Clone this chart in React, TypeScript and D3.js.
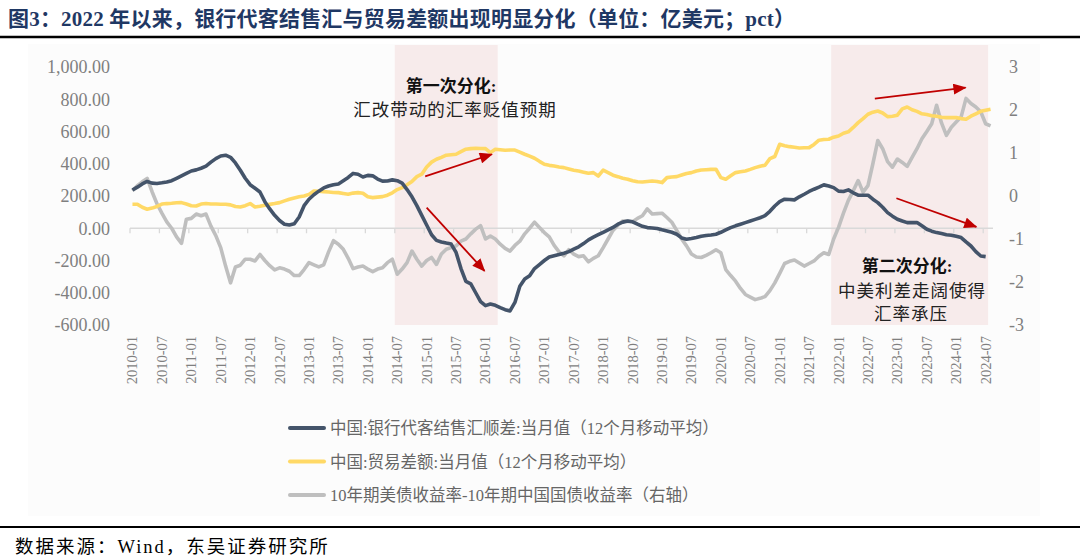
import React from "react";
import * as d3 from "d3";

// ---------- categories ----------
const startYear = 2010;
const monthCount = 176; // 2010-01 .. 2024-08
const months: string[] = Array.from(
  { length: monthCount },
  (_, i) => `${startYear + Math.floor(i / 12)}-${String((i % 12) + 1).padStart(2, "0")}`
);
const tickLabels: string[] = months.filter((_, i) => i % 6 === 0);
const leftTicks = [-600, -400, -200, 0, 200, 400, 600, 800, 1000];
const rightTicks = [-3, -2, -1, 0, 1, 2, 3];

// ---------- series (亿美元 / pct) ----------
const fxSettlement: number[] = [
  237, 255, 275, 290, 280, 278, 282, 287, 295, 310, 325, 340,
  355, 362, 372, 385, 410, 432, 448, 453, 440, 405, 360, 310,
  270, 248, 225, 165, 120, 80, 48, 25, 20, 28, 70, 140,
  180, 208, 230, 250, 262, 270, 275, 295, 315, 340, 335, 318,
  328, 325, 305, 292, 293, 300, 295, 280, 240, 195, 140, 80,
  20, -40, -75, -85, -92, -98, -150, -250, -330, -345, -400, -455,
  -480, -470, -478, -492, -505, -513, -460, -360, -315, -295, -250, -225,
  -200, -178, -170, -163, -155, -145, -130, -115, -95, -72, -55, -40,
  -25, -10, 5, 25, 38, 45, 40, 25, 12, 4, 2, -2,
  -10, -17, -25, -37, -60, -68, -64, -58, -50, -45, -42, -37,
  -25, -10, 4, 15, 25, 35, 45, 55, 65, 78, 105, 138,
  165, 180, 178, 176, 195, 211, 228, 242, 255, 269, 262, 252,
  230, 228, 238, 220, 205, 205, 205, 180, 159, 130, 97, 75,
  56, 45, 35, 35, 35, 15, -6, -18, -27, -33, -40, -43,
  -50, -58, -85, -110, -145, -172, -176,
];
const tradeBalance: number[] = [
  149, 149, 130, 118, 125, 135, 150, 153, 155, 158, 159, 150,
  140, 138, 150, 153, 150, 150, 149, 149, 145, 135, 132, 140,
  153, 132, 137, 143, 148, 153, 159, 170, 180, 188, 195, 200,
  210, 231, 229, 227, 225, 222, 221, 216, 211, 218, 221, 217,
  195, 190, 193, 196, 205, 220, 240, 252, 270, 290, 320, 335,
  380, 410, 428, 440, 453, 456, 459, 475, 490, 494, 496, 495,
  494, 469, 490, 487, 484, 485, 485, 472, 459, 447, 434, 415,
  397, 390, 386, 380, 376, 368, 360, 355, 348, 341, 345, 324,
  360, 345, 329, 320, 310, 304, 295, 288, 287, 290, 293, 290,
  283, 314, 318, 320, 330, 340, 345, 355, 361, 363, 365, 366,
  314, 304, 325, 345, 350, 355, 365, 376, 385, 391, 432, 445,
  521, 512, 506, 502, 498, 499, 500, 520, 546, 550, 552, 565,
  572, 589, 598, 625, 655, 680, 707, 720, 727, 715, 692, 695,
  701, 740, 752, 735, 725, 710, 705, 698, 695, 688, 686, 686,
  686, 680, 676, 695, 710, 725, 732, 738,
];
const yieldSpread: number[] = [
  0.12, 0.24, 0.33, 0.41, 0.1, -0.18, -0.4, -0.6, -0.75, -0.95, -1.1, -0.54,
  -0.52, -0.42, -0.46, -0.42, -0.7, -0.92, -1.2, -1.63, -2.02, -1.65, -1.61, -1.47,
  -1.47, -1.51, -1.36, -1.5, -1.62, -1.72, -1.67, -1.7, -1.75, -1.85, -1.85, -1.71,
  -1.55, -1.6, -1.65, -1.6, -1.3, -1.04, -1.12, -1.24, -1.45, -1.69, -1.65, -1.63,
  -1.7, -1.76, -1.7, -1.67, -1.55, -1.47, -1.82, -1.7, -1.55, -1.28, -1.47, -1.63,
  -1.5, -1.43, -1.59, -1.35, -1.24, -1.2, -1.16, -1.05, -1.0, -0.88, -0.77, -0.69,
  -1.0, -0.93, -1.0, -1.12, -1.22, -1.28, -1.15, -1.05, -0.88, -0.75, -0.61, -0.73,
  -0.85, -0.95, -1.15, -1.3, -1.39, -1.25, -1.35, -1.41, -1.39, -1.53, -1.45, -1.39,
  -1.2, -1.0, -0.8, -0.68, -0.58, -0.59, -0.6, -0.52, -0.46, -0.3, -0.42, -0.41,
  -0.4, -0.5, -0.61, -0.8, -1.0, -1.16, -1.35, -1.42, -1.43, -1.38, -1.32, -1.25,
  -1.32, -1.71, -1.85, -1.98, -2.15, -2.29, -2.35, -2.41, -2.38, -2.34, -2.2, -2.02,
  -1.8, -1.57, -1.52, -1.49, -1.56, -1.63, -1.57, -1.51, -1.4, -1.32, -1.36, -1.0,
  -0.73, -0.4, -0.1, 0.12, 0.36, 0.09, 0.24, 0.75, 1.29, 1.1, 0.8, 0.67,
  0.86, 0.78, 0.69, 0.9, 1.1, 1.33, 1.5, 1.68, 2.11, 1.7, 1.41, 1.6,
  1.72, 1.84, 2.27, 2.15, 2.07, 1.96, 1.68, 1.63,
];

const seriesNames = [
  "中国:银行代客结售汇顺差:当月值（12个月移动平均）",
  "中国:贸易差额:当月值（12个月移动平均）",
  "10年期美债收益率-10年期中国国债收益率（右轴）",
];
const seriesColors = ["#44546A", "#FFD966", "#BFBFBF"];

const shadePeriods: [string, string][] = [
  ["2014-07", "2016-03"],
  ["2021-12", "2024-07"],
];

// annotation arrows in data units: [month index, left-axis value]
const arrowDefs = [
  { x1: 59.7, y1: 322, x2: 73.3, y2: 459 },
  { x1: 60.0, y1: 128, x2: 71.8, y2: -265 },
  { x1: 151.4, y1: 804, x2: 169.9, y2: 872 },
  { x1: 155.8, y1: 186, x2: 172.1, y2: 8 },
];

const titleText = "图3：2022 年以来，银行代客结售汇与贸易差额出现明显分化（单位：亿美元；pct）";
const sourceText = "数据来源：Wind，东吴证券研究所";

const SERIF = "'Liberation Serif', 'Times New Roman', 'Noto Sans CJK SC', serif";

export default function App() {
  const W = 1080;
  const H = 558;
  const plot = { left: 130, right: 993, top: 67, bottom: 325 };

  const xBand = d3.scaleBand<string>().domain(months).range([plot.left, plot.right]).padding(0);
  const bw = xBand.bandwidth();
  const xc = (i: number) => plot.left + (i + 0.5) * bw;
  const yL = d3.scaleLinear().domain([-600, 1000]).range([plot.bottom, plot.top]);
  const yR = d3.scaleLinear().domain([-3, 3]).range([plot.bottom, plot.top]);

  const lineL = d3
    .line<number>()
    .x((_, i) => (xBand(months[i]) as number) + bw / 2)
    .y((d) => yL(d))
    .curve(d3.curveLinear);
  const lineR = d3
    .line<number>()
    .x((_, i) => (xBand(months[i]) as number) + bw / 2)
    .y((d) => yR(d));

  const axisY = yL(0);
  const shadeTop = 45;

  return (
    <svg
      width={W}
      height={H}
      style={{ position: "absolute", left: 0, top: 0, background: "#fff" }}
      xmlns="http://www.w3.org/2000/svg"
    >
      <defs>
        <marker
          id="arr"
          viewBox="0 0 12 10"
          refX="11"
          refY="5"
          markerWidth="14"
          markerHeight="11"
          markerUnits="userSpaceOnUse"
          orient="auto"
        >
          <path d="M0,0 L12,5 L0,10 z" fill="#C00000" />
        </marker>
      </defs>
      <rect x={0} y={0} width={W} height={H} fill="#fff" />
      <rect x={28} y={44} width={1012} height={472} fill="#FCFCFC" />

      {/* title */}
      <text x={8} y={26} fontFamily={SERIF} fontWeight="bold" fontSize={21} fill="#1F3864" letterSpacing={0.2}>
        {titleText}
      </text>
      <line x1={0} y1={37} x2={W} y2={37} stroke="#000" strokeWidth={2.5} />

      {/* shaded periods */}
      {shadePeriods.map(([a, b], k) => {
        const x0 = xBand(a) as number;
        const x1 = (xBand(b) as number) + bw;
        return (
          <rect key={k} x={x0} y={shadeTop} width={x1 - x0} height={plot.bottom - shadeTop} fill="#F7EBEB" />
        );
      })}

      {/* x axis */}
      <line x1={plot.left} x2={plot.right} y1={axisY} y2={axisY} stroke="#D9D9D9" strokeWidth={1.3} />
      {months.map((m, i) =>
        i % 6 === 0 ? (
          <line
            key={"t" + m}
            x1={xBand(m) as number}
            x2={xBand(m) as number}
            y1={axisY}
            y2={axisY + 5}
            stroke="#D9D9D9"
            strokeWidth={1.3}
          />
        ) : null
      )}
      {tickLabels.map((m) => {
        const cx = (xBand(m) as number) + bw / 2;
        return (
          <text
            key={"l" + m}
            transform={`translate(${cx + 5},336) rotate(-90)`}
            textAnchor="end"
            fontFamily={SERIF}
            fontSize={14.5}
            fill="#7F7F7F"
          >
            {m}
          </text>
        );
      })}

      {/* left axis labels */}
      {leftTicks.map((t) => (
        <text
          key={"yl" + t}
          x={110}
          y={yL(t)}
          dy="0.35em"
          textAnchor="end"
          fontFamily={SERIF}
          fontSize={18}
          fill="#7F7F7F"
        >
          {d3.format(",.2f")(t).replace("−", "-")}
        </text>
      ))}
      {/* right axis labels */}
      {rightTicks.map((t) => (
        <text
          key={"yr" + t}
          x={1009}
          y={yR(t)}
          dy="0.35em"
          textAnchor="start"
          fontFamily={SERIF}
          fontSize={18}
          fill="#7F7F7F"
        >
          {String(t)}
        </text>
      ))}

      {/* series */}
      <path d={lineR(yieldSpread) || ""} fill="none" stroke={seriesColors[2]} strokeWidth={3.6} strokeLinejoin="round" />
      <path d={lineL(tradeBalance) || ""} fill="none" stroke={seriesColors[1]} strokeWidth={3.6} strokeLinejoin="round" />
      <path d={lineL(fxSettlement) || ""} fill="none" stroke={seriesColors[0]} strokeWidth={3.6} strokeLinejoin="round" />

      {/* arrows */}
      {arrowDefs.map((a, k) => (
        <line
          key={"a" + k}
          x1={xc(a.x1)}
          y1={yL(a.y1)}
          x2={xc(a.x2)}
          y2={yL(a.y2)}
          stroke="#C00000"
          strokeWidth={1.8}
          markerEnd="url(#arr)"
        />
      ))}

      {/* annotations */}
      <text x={451} y={92} textAnchor="middle" fontFamily={SERIF} fontWeight="bold" fontSize={17} fill="#111">
        第一次分化:
      </text>
      <text x={455} y={116} textAnchor="middle" fontFamily={SERIF} fontSize={17.5} fill="#222" letterSpacing={1}>
        汇改带动的汇率贬值预期
      </text>
      <text x={907} y={272} textAnchor="middle" fontFamily={SERIF} fontWeight="bold" fontSize={17} fill="#111">
        第二次分化:
      </text>
      <text x={912} y={297} textAnchor="middle" fontFamily={SERIF} fontSize={17.5} fill="#222" letterSpacing={1}>
        中美利差走阔使得
      </text>
      <text x={911} y={320} textAnchor="middle" fontFamily={SERIF} fontSize={17.5} fill="#222" letterSpacing={1}>
        汇率承压
      </text>

      {/* legend */}
      {seriesNames.map((name, k) => {
        const y = 428 + k * 33.5;
        return (
          <g key={"lg" + k}>
            <line x1={290} x2={324} y1={y} y2={y} stroke={seriesColors[k]} strokeWidth={4} strokeLinecap="round" />
            <text x={330} y={y + 6} fontFamily={SERIF} fontSize={16.5} fill="#666">
              {name}
            </text>
          </g>
        );
      })}

      {/* footer */}
      <line x1={0} y1={527} x2={W} y2={527} stroke="#000" strokeWidth={1.8} />
      <text x={15} y={553} fontFamily={SERIF} fontSize={18.5} fill="#000" letterSpacing={2}>
        {sourceText}
      </text>
    </svg>
  );
}
